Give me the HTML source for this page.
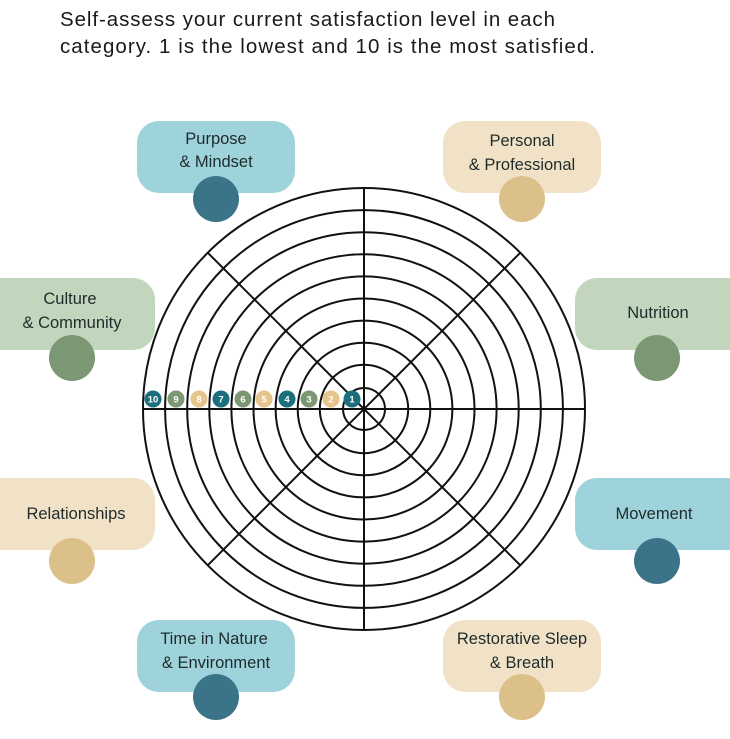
<!DOCTYPE html>
<html><head><meta charset="utf-8"><style>
html,body{margin:0;padding:0;background:#fff;}
svg{display:block;}
text{font-family:"Liberation Sans",sans-serif;}
</style></head><body>
<svg width="730" height="739" viewBox="0 0 730 739" xmlns="http://www.w3.org/2000/svg">
<text x="60" y="26" font-size="20.5" fill="#1a1a1a" textLength="495" lengthAdjust="spacing">Self-assess your current satisfaction level in each</text>
<text x="60" y="53" font-size="20.5" fill="#1a1a1a" textLength="535" lengthAdjust="spacing">category. 1 is the lowest and 10 is the most satisfied.</text>

<!-- boxes -->
<g font-size="16.5" fill="#1e2b2b" text-anchor="middle">
<rect x="137" y="121" width="158" height="72" rx="22" fill="#9fd3dc"/>
<circle cx="216" cy="199" r="23" fill="#3b7388"/>
<text x="216" y="144">Purpose</text><text x="216" y="167">&amp; Mindset</text>

<rect x="443" y="121" width="158" height="72" rx="22" fill="#f1e2c7"/>
<circle cx="522" cy="199" r="23" fill="#dcc08a"/>
<text x="522" y="146">Personal</text><text x="522" y="170">&amp; Professional</text>

<rect x="-20" y="278" width="175" height="72" rx="22" fill="#c2d6be"/>
<circle cx="72" cy="358" r="23" fill="#7b9774"/>
<text x="70" y="304">Culture</text><text x="72" y="328">&amp; Community</text>

<rect x="575" y="278" width="175" height="72" rx="22" fill="#c2d6be"/>
<circle cx="657" cy="358" r="23" fill="#7b9774"/>
<text x="658" y="318">Nutrition</text>

<rect x="-20" y="478" width="175" height="72" rx="22" fill="#f1e2c7"/>
<circle cx="72" cy="561" r="23" fill="#dcc08a"/>
<text x="76" y="519">Relationships</text>

<rect x="575" y="478" width="175" height="72" rx="22" fill="#9fd3dc"/>
<circle cx="657" cy="561" r="23" fill="#3b7388"/>
<text x="654" y="519">Movement</text>

<rect x="137" y="620" width="158" height="72" rx="22" fill="#9fd3dc"/>
<circle cx="216" cy="697" r="23" fill="#3b7388"/>
<text x="214" y="644">Time in Nature</text><text x="216" y="668">&amp; Environment</text>

<rect x="443" y="620" width="158" height="72" rx="22" fill="#f1e2c7"/>
<circle cx="522" cy="697" r="23" fill="#dcc08a"/>
<text x="522" y="644">Restorative Sleep</text><text x="522" y="668">&amp; Breath</text>
</g>

<!-- wheel -->
<g fill="none" stroke="#111" stroke-width="2">
<circle cx="364" cy="409" r="221" fill="#fff"/>
<circle cx="364" cy="409" r="198.9"/>
<circle cx="364" cy="409" r="176.8"/>
<circle cx="364" cy="409" r="154.7"/>
<circle cx="364" cy="409" r="132.6"/>
<circle cx="364" cy="409" r="110.5"/>
<circle cx="364" cy="409" r="88.4"/>
<circle cx="364" cy="409" r="66.3"/>
<circle cx="364" cy="409" r="44.2"/>
<circle cx="364" cy="409" r="21"/>
<line x1="143" y1="409" x2="585" y2="409"/>
<line x1="364" y1="188" x2="364" y2="630"/>
<line x1="207.7" y1="252.7" x2="520.3" y2="565.3"/>
<line x1="207.7" y1="565.3" x2="520.3" y2="252.7"/>
</g>
<circle cx="364" cy="409" r="2.5" fill="#111"/>

<!-- numbers -->
<g font-size="9.5" font-weight="bold" fill="#fff" text-anchor="middle">
<circle cx="153" cy="399" r="8.5" fill="#1b6e7c"/><text x="153" y="402.5">10</text>
<circle cx="176" cy="399" r="8.5" fill="#7b9774"/><text x="176" y="402.5">9</text>
<circle cx="199" cy="399" r="8.5" fill="#e6c58c"/><text x="199" y="402.5">8</text>
<circle cx="221" cy="399" r="8.5" fill="#1b6e7c"/><text x="221" y="402.5">7</text>
<circle cx="243" cy="399" r="8.5" fill="#7b9774"/><text x="243" y="402.5">6</text>
<circle cx="264" cy="399" r="8.5" fill="#e6c58c"/><text x="264" y="402.5">5</text>
<circle cx="287" cy="399" r="8.5" fill="#1b6e7c"/><text x="287" y="402.5">4</text>
<circle cx="309" cy="399" r="8.5" fill="#7b9774"/><text x="309" y="402.5">3</text>
<circle cx="331" cy="399" r="8.5" fill="#e6c58c"/><text x="331" y="402.5">2</text>
<circle cx="352" cy="399" r="8.5" fill="#1b6e7c"/><text x="352" y="402.5">1</text>
</g>
</svg>
</body></html>
